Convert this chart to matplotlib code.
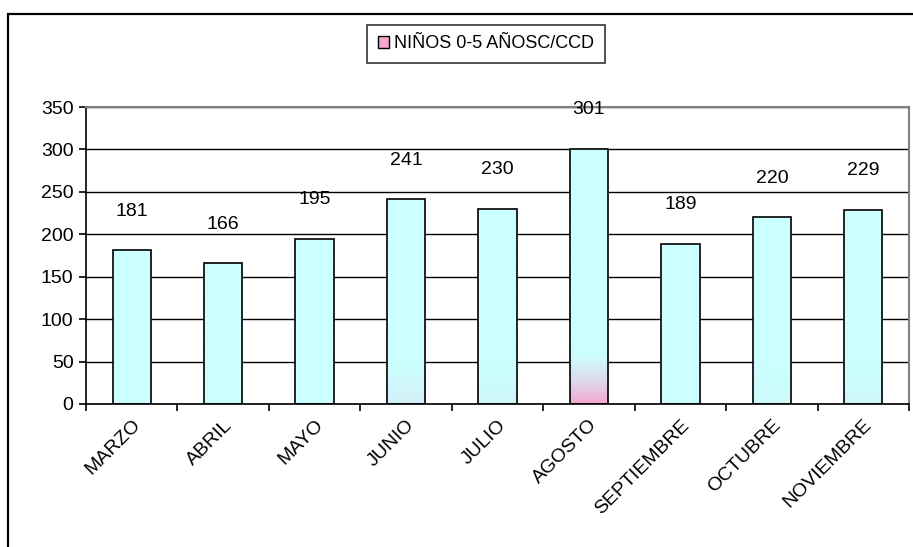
import numpy as np
import matplotlib.pyplot as plt
import matplotlib.transforms as mtransforms
from matplotlib.patches import Rectangle

plt.rcParams['font.family'] = ['Liberation Sans', 'DejaVu Sans']

# datos
meses = ['MARZO', 'ABRIL', 'MAYO', 'JUNIO', 'JULIO', 'AGOSTO',
         'SEPTIEMBRE', 'OCTUBRE', 'NOVIEMBRE']
ninos = [181, 166, 195, 241, 230, 301, 189, 220, 229]
serie = 'NIÑOS 0-5 AÑOSC/CCD'

cyan = np.array([0.80, 1.0, 1.0])
rosa = np.array([0.96, 0.65, 0.82])

fig = plt.figure(figsize=(9.13, 5.47), dpi=100)
ax = fig.add_axes([86/913, 1-404/547, (909-86)/913, (404-107)/547])

# marco del grafico
fig.patches.append(Rectangle((8/913, -0.1), 1.2, 1-14/547+0.1, transform=fig.transFigure,
                             fill=False, edgecolor='black', lw=1.6))

x = np.arange(len(meses))
ancho = 0.42
barras = ax.bar(x, ninos, width=ancho, facecolor='none', edgecolor='black',
                lw=1.2, zorder=3)

# relleno degradado (rosa abajo -> celeste)
t = np.linspace(0, 1, 200)[:, None]
for b, v in zip(barras, ninos):
    fuerza = np.clip((v - 195) / 106, 0, 1) ** 2
    mezcla = fuerza * np.clip(1 - t / 0.22, 0, 1) ** 1.6
    img = (1 - mezcla)[:, :, None] * cyan + mezcla[:, :, None] * rosa
    img = np.repeat(img, 2, axis=1)
    im = ax.imshow(img, extent=[b.get_x(), b.get_x() + ancho, 0, v],
                   origin='lower', aspect='auto', zorder=2)
    im.set_clip_path(b)

for xi, v in zip(x, ninos):
    ax.annotate(str(v), (xi, v), xytext=(0, 28), textcoords='offset points',
                ha='center', va='center', fontsize=14)

ax.set_xlim(-0.5, len(meses) - 0.5)
ax.set_ylim(0, 350)
ax.set_yticks(range(0, 351, 50))
ax.yaxis.grid(True, color='black', lw=1)
ax.set_axisbelow(True)

ax.set_xticks(x)
ax.set_xticklabels(meses, rotation=45, ha='right', rotation_mode='anchor', fontsize=14)
desplaza = mtransforms.ScaledTranslation(-8/100, 0, fig.dpi_scale_trans)
for lab in ax.get_xticklabels():
    lab.set_transform(lab.get_transform() + desplaza)
ax.set_xticks(np.arange(-0.5, len(meses)), minor=True)
ax.tick_params(axis='x', which='major', length=0, pad=9)
ax.tick_params(axis='x', which='minor', length=5, width=1.2, direction='out')
ax.tick_params(axis='y', length=5, width=1.2, labelsize=14, pad=4)

for s in ['left', 'bottom']:
    ax.spines[s].set_linewidth(1.2)
for s in ['top', 'right']:
    ax.spines[s].set_color('#808080')
    ax.spines[s].set_linewidth(1.5)

leg_h = Rectangle((0, 0), 1, 1, facecolor=rosa, edgecolor='black', lw=1)
fig.legend([leg_h], [serie], loc='center', bbox_to_anchor=(486/913, 1-44/547),
           frameon=True, fancybox=False, edgecolor='black', fontsize=13,
           handlelength=0.6, handleheight=0.6, handletextpad=0.3,
           borderpad=0.6).get_frame().set_linewidth(1.2)

fig.savefig('out.png', dpi=100)
